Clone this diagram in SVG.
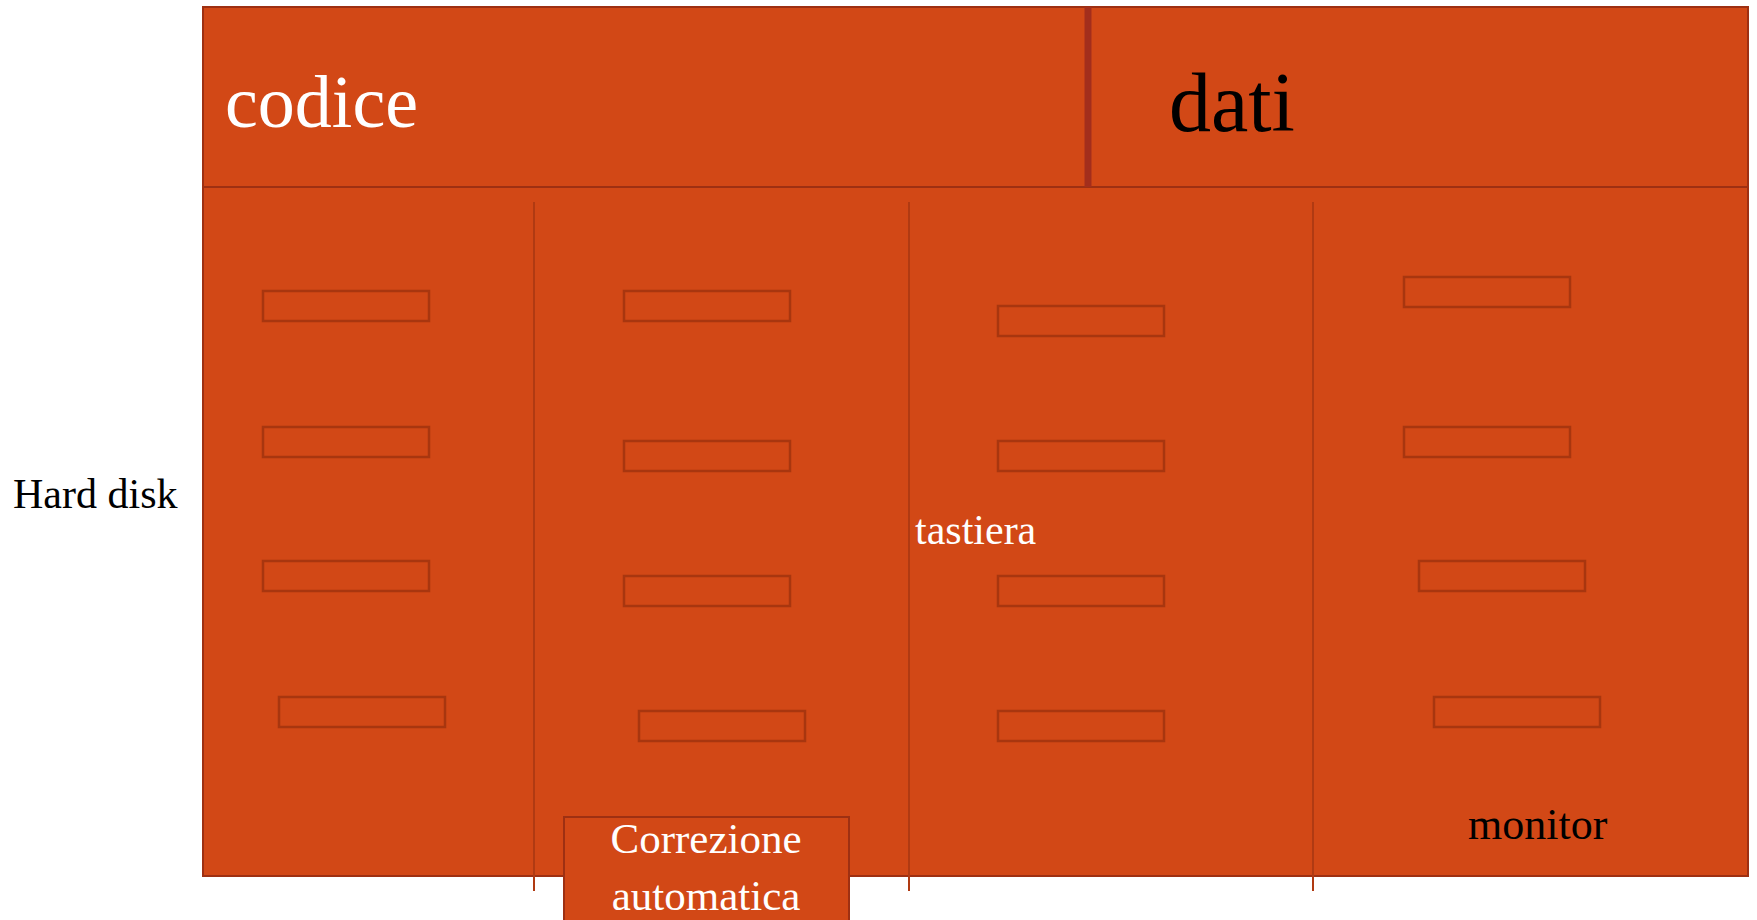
<svg xmlns="http://www.w3.org/2000/svg" width="1757" height="920" viewBox="0 0 1757 920">
<style>
.panel{fill:#D24816;stroke:#9E3012;stroke-width:2}
.slot{fill:none;stroke:#A8360F;stroke-width:2.5}
.vline{stroke:#B03A12;stroke-width:2}
.t{font-family:"Liberation Serif","Times New Roman",serif}
</style>
<rect width="1757" height="920" fill="#FFFFFF"/>
<g id="memory">
<rect class="panel" x="203" y="187" width="1545" height="689"/>
<rect class="panel" x="203" y="7" width="1545" height="180" stroke-width="2.5"/>
<line x1="1088" y1="7" x2="1088" y2="187" stroke="#A32E1C" stroke-width="7"/>
</g>
<g id="codice"><text class="t" x="225" y="127" font-size="74" fill="#FFFFFF">codice</text></g>
<g id="dati"><text class="t" x="1169" y="131" font-size="84" fill="#000000">dati</text></g>
<g id="hard-disk"><text class="t" x="13" y="508" font-size="42" fill="#000000">Hard disk</text></g>
<g id="connectors">
<line class="vline" x1="534" y1="202" x2="534" y2="891"/>
<line class="vline" x1="909" y1="202" x2="909" y2="891"/>
<line class="vline" x1="1313" y1="202" x2="1313" y2="891"/>
</g>
<g id="col1">
<rect class="slot" x="263" y="291" width="166" height="30"/>
<rect class="slot" x="263" y="427" width="166" height="30"/>
<rect class="slot" x="263" y="561" width="166" height="30"/>
<rect class="slot" x="279" y="697" width="166" height="30"/>
</g>
<g id="col2">
<rect class="slot" x="624" y="291" width="166" height="30"/>
<rect class="slot" x="624" y="441" width="166" height="30"/>
<rect class="slot" x="624" y="576" width="166" height="30"/>
<rect class="slot" x="639" y="711" width="166" height="30"/>
</g>
<g id="col3">
<rect class="slot" x="998" y="306" width="166" height="30"/>
<rect class="slot" x="998" y="441" width="166" height="30"/>
<rect class="slot" x="998" y="576" width="166" height="30"/>
<rect class="slot" x="998" y="711" width="166" height="30"/>
</g>
<g id="col4">
<rect class="slot" x="1404" y="277" width="166" height="30"/>
<rect class="slot" x="1404" y="427" width="166" height="30"/>
<rect class="slot" x="1419" y="561" width="166" height="30"/>
<rect class="slot" x="1434" y="697" width="166" height="30"/>
</g>
<g id="tastiera"><text class="t" x="915" y="544" font-size="42" fill="#FFFFFF">tastiera</text></g>
<g id="monitor"><text class="t" x="1468" y="839" font-size="44" fill="#000000">monitor</text></g>
<g id="correzione">
<rect class="panel" x="564" y="817" width="285" height="120"/>
<text class="t" x="706" y="853" font-size="43" fill="#FFFFFF" text-anchor="middle">Correzione</text>
<text class="t" x="706" y="910" font-size="43" fill="#FFFFFF" text-anchor="middle">automatica</text>
</g>
</svg>
